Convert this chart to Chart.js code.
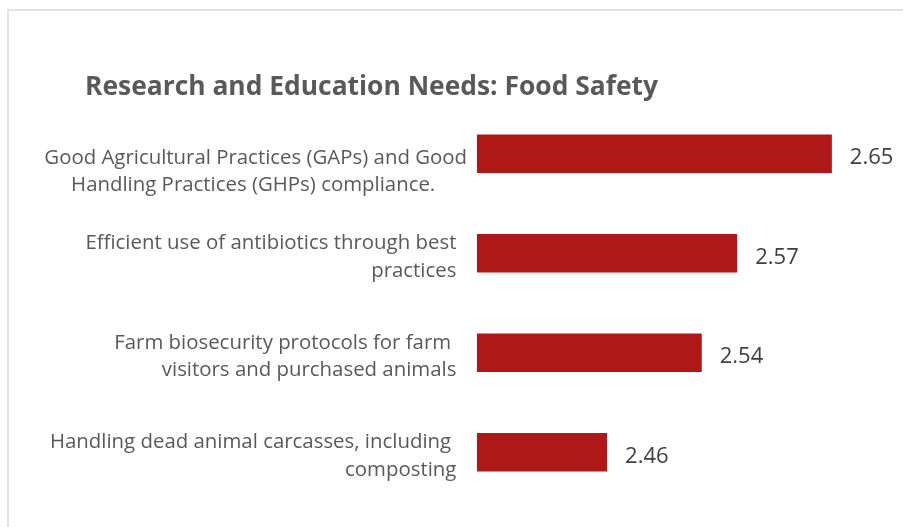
<!DOCTYPE html>
<html>
<head>
<meta charset="utf-8">
<script src="https://cdn.jsdelivr.net/npm/chart.js@4"></script>
<style>
  html, body { margin: 0; padding: 0; background: #fff; }
  #wrap { position: relative; width: 903px; height: 527px; overflow: hidden; }
  #frame {
    position: absolute; left: 7px; top: 9px; width: 1000px; height: 600px;
    border-top: 2px solid #e2e2e2; border-left: 2px solid #e2e2e2;
  }
  canvas { position: absolute; left: 0; top: 0; }
</style>
</head>
<body>
<div id="wrap">
  <div id="frame"></div>
  <canvas id="foodChart" width="903" height="527"></canvas>
</div>
<script>
// categories (wrapped the same way as the original labels)
const categories = [
    ['', 'Good Agricultural Practices (GAPs) and Good', 'Handling Practices (GHPs) compliance.      '],
    ['Efficient use of antibiotics through best  ', 'practices  '],
    ['Farm biosecurity protocols for farm   ', 'visitors and purchased animals  '],
    ['Handling dead animal carcasses, including   ', 'composting  ']
];
const scores = [2.65, 2.57, 2.54, 2.46];
const axisMin = 2.35;
const axisMax = 2.7;
const chartTitle = 'Research and Education Needs: Food Safety';

// title sits to the right of the label column, so it is drawn here
const leftTitle = {
    id: 'leftTitle',
    afterDraw(chart) {
        const ctx = chart.ctx;
        ctx.save();
        ctx.font = 'bold 26.4px "Open Sans"';
        ctx.fillStyle = '#595959';
        ctx.textAlign = 'left';
        ctx.textBaseline = 'alphabetic';
        ctx.fillText(chartTitle, 85, 95);
        ctx.restore();
    }
};

// draws value next to each bar end
const valueLabels = {
    id: 'valueLabels',
    afterDatasetsDraw(chart) {
        const ctx = chart.ctx;
        const meta = chart.getDatasetMeta(0);
        ctx.save();
        ctx.font = '22px "Open Sans"';
        ctx.fillStyle = '#404040';
        ctx.textAlign = 'left';
        ctx.textBaseline = 'middle';
        meta.data.forEach((bar, i) => {
            ctx.fillText(scores[i].toFixed(2), bar.x + 18, bar.y + 4);
        });
        ctx.restore();
    }
};

const ctx = document.getElementById('foodChart').getContext('2d');
new Chart(ctx, {
    type: 'bar',
    data: {
        labels: categories,
        datasets: [{
            data: scores,
            backgroundColor: '#b01717',
            categoryPercentage: 1,
            barPercentage: 0.387
        }]
    },
    options: {
        indexAxis: 'y',
        responsive: false,
        animation: false,
        layout: { padding: { left: 45, top: 104, right: 12, bottom: 25 } },
        plugins: {
            legend: { display: false },
            tooltip: { enabled: false },
            title: { display: false }
        },
        scales: {
            x: {
                display: false,
                min: axisMin,
                max: axisMax
            },
            y: {
                grid: { display: false, drawTicks: false },
                border: { display: false },
                afterFit(scale) {
                    scale.width = 432;
                    scale.paddingTop = 0;
                    scale.paddingBottom = 0;
                },
                ticks: {
                    color: '#595959',
                    padding: 10,
                    labelOffset: 4,
                    font: { family: 'Open Sans', size: 20.4, lineHeight: 1.36 }
                }
            }
        }
    },
    plugins: [valueLabels, leftTitle]
});
</script>
</body>
</html>
